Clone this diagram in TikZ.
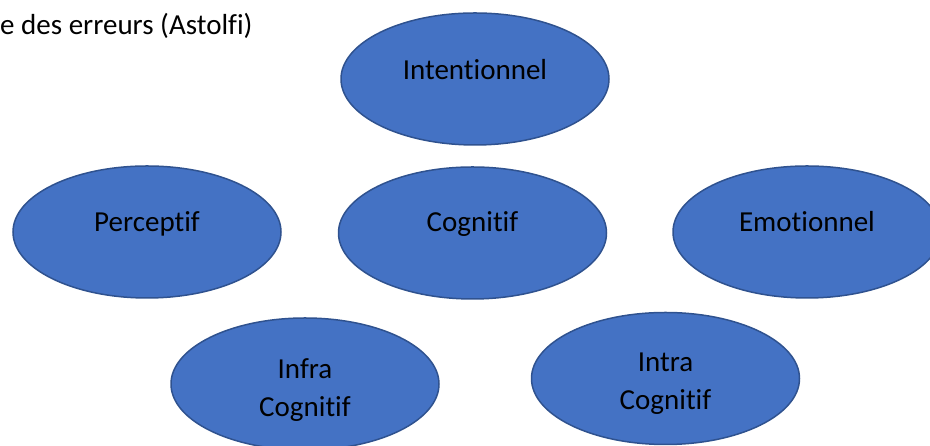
\documentclass[tikz,border=0pt]{standalone}
\usepackage{fontspec}
\setmainfont{Carlito}[Ligatures={NoCommon,NoRequired,NoContextual}]
\usetikzlibrary{shapes.geometric}
\definecolor{ovalfill}{HTML}{4472C4}
\definecolor{ovaldraw}{HTML}{2F528F}
\tikzset{
  oval/.style={ellipse, fill=ovalfill, draw=ovaldraw, line width=1.5pt,
    minimum width=268pt, minimum height=132pt, inner sep=0pt},
  lbl/.style={anchor=base, inner sep=0pt, text=black,
    font=\fontsize{29}{38.3}\selectfont, align=center},
}
\begin{document}
\begin{tikzpicture}[x=1pt,y=1pt]
\useasboundingbox (0,0) rectangle (930,446);
\clip (0,0) rectangle (930,446);
\node[anchor=base west, inner sep=0pt, font=\fontsize{29}{38.3}\selectfont] (title) at (0,411) {e des erreurs (Astolfi)};
% ovals (image y -> 446 - y)
\node[oval] (intent) at (475,367) {};
\node[oval] (percep) at (147,214) {};
\node[oval] (cogn) at (472.5,213) {};
\node[oval] (emot) at (807,214) {};
\node[oval] (infra) at (305,62) {};
\node[oval] (intra) at (665.5,67.5) {};
% labels
\node[lbl] (intentT) at (475,366.7) {Intentionnel};
\node[lbl] (percepT) at (147,214.3) {Perceptif};
\node[lbl] (cognT) at (472.5,214.3) {Cognitif};
\node[lbl] (emotT) at (807,214.3) {Emotionnel};
\node[lbl] (infraT1) at (305,67.7) {Infra};
\node[lbl] (infraT2) at (305,29.3) {Cognitif};
\node[lbl] (intraT1) at (665.5,74.3) {Intra};
\node[lbl] (intraT2) at (665.5,36) {Cognitif};
\end{tikzpicture}
\end{document}
